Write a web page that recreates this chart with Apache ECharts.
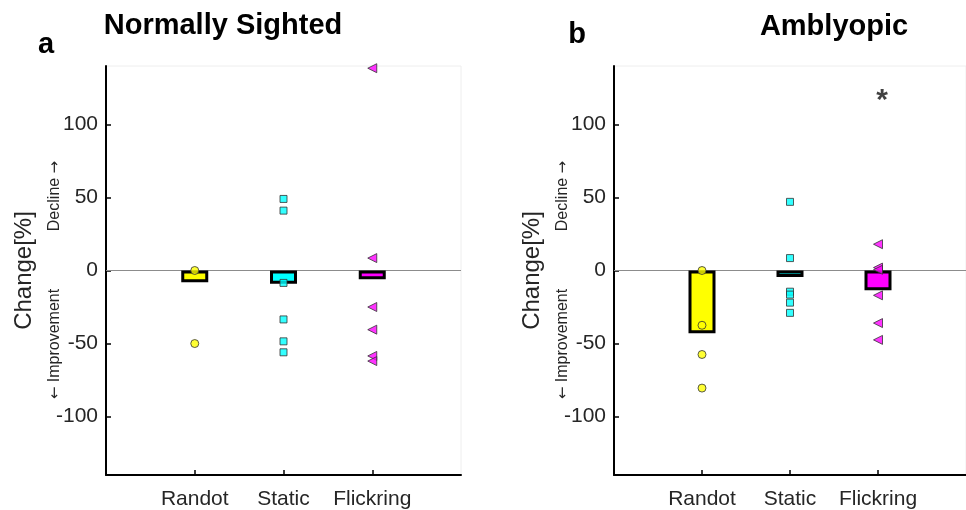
<!DOCTYPE html>
<html>
<head>
<meta charset="utf-8">
<script src="https://cdn.jsdelivr.net/npm/echarts@6/dist/echarts.min.js"></script>
<style>
html,body{margin:0;padding:0;background:#fff;}
#chart{width:966px;height:510px;}
</style>
</head>
<body>
<div id="chart"></div>
<script>
// ---- data ----
const categories = ['Randot', 'Static', 'Flickring'];
const yTicks = [-100, -50, 0, 50, 100];
const panelTitles = ['Normally Sighted', 'Amblyopic'];
const panelLetters = ['a', 'b'];

// Normally sighted: bar means and individual points
const normalBars = [-8, -9, -6];
const normalRandot = [0, -50];
const normalStatic = [49, 41, -8.5, -33.5, -48.5, -56];
const normalFlick = [138.5, 8.5, -25, -40.5, -58.5, -62];

// Amblyopic
const amblyBars = [-43, -4.5, -13.5];
const amblyRandot = [0, -37.5, -57.5, -80.5];
const amblyStatic = [47, 8.5, -14.5, -16.5, -22, -29];
const amblyFlick = [18, 2, 0.5, -17, -36, -47.5];

const significance = [{ cat: 3, value: 120, text: '*' }]; // amblyopic panel

// ---- chart ----
const FONT = "'Liberation Sans', Arial, sans-serif";
const barColors = ['#ffff00', '#00ffff', '#ff00ff'];
const chart = echarts.init(document.getElementById('chart'), null, { renderer: 'canvas' });

const grids = [
  { left: 106, top: 66, width: 355, height: 411 },
  { left: 614, top: 66, width: 356, height: 411 }
];

function xAxis(i) {
  return {
    type: 'value', gridIndex: i, min: 0, max: 4,
    axisLine: { show: true, onZero: false, lineStyle: { color: '#000', width: 2 } },
    axisTick: { show: true, inside: true, length: 5, customValues: [1, 2, 3], lineStyle: { color: '#000', width: 1.5 } },
    axisLabel: { customValues: [1, 2, 3], margin: 14, fontSize: 21, color: '#262626', fontFamily: FONT,
      formatter: v => categories[Math.round(v) - 1] || '' },
    splitLine: { show: false }
  };
}
function yAxis(i) {
  return {
    type: 'value', gridIndex: i, min: -140, max: 140,
    name: 'Change[%]', nameLocation: 'middle', nameGap: 70, nameRotate: 90,
    nameTextStyle: { fontSize: 24, color: '#262626', fontFamily: FONT },
    axisLine: { show: true, onZero: false, lineStyle: { color: '#000', width: 2 } },
    axisTick: { show: true, inside: true, length: 5, customValues: yTicks, lineStyle: { color: '#000', width: 1.5 } },
    axisLabel: { customValues: yTicks, margin: 8, fontSize: 21, color: '#262626', fontFamily: FONT },
    splitLine: { show: false }
  };
}

function barSeries(i, vals) {
  return {
    type: 'bar', xAxisIndex: i, yAxisIndex: i, barWidth: 27, z: 2,
    data: vals.map((v, k) => ({ value: [k + 1, v], itemStyle: { color: barColors[k] } })),
    itemStyle: { borderColor: '#000', borderWidth: 3 },
    markLine: {
      silent: true, symbol: 'none', label: { show: false }, z: 1,
      lineStyle: { color: '#8c8c8c', width: 1, type: 'solid' },
      data: [{ yAxis: 0 }]
    }
  };
}
function pointSeries(i, cat, vals, symbol, color, rotate, size) {
  return {
    type: 'scatter', xAxisIndex: i, yAxisIndex: i, z: 5,
    symbol: symbol, symbolSize: size, symbolRotate: rotate,
    itemStyle: { color: color, borderColor: '#333', borderWidth: 1 },
    data: vals.map(v => [cat, v])
  };
}

const series = [
  barSeries(0, normalBars),
  pointSeries(0, 1, normalRandot, 'circle', '#ffff00', 0, 8),
  pointSeries(0, 2, normalStatic, 'rect', '#00ffff', 0, 7),
  pointSeries(0, 3, normalFlick, 'triangle', '#ff00ff', 90, 9),
  barSeries(1, amblyBars),
  pointSeries(1, 1, amblyRandot, 'circle', '#ffff00', 0, 8),
  pointSeries(1, 2, amblyStatic, 'rect', '#00ffff', 0, 7),
  pointSeries(1, 3, amblyFlick, 'triangle', '#ff00ff', 90, 9),
  {
    type: 'scatter', xAxisIndex: 1, yAxisIndex: 1, symbolSize: 1, z: 6,
    itemStyle: { color: 'rgba(0,0,0,0)' },
    label: { show: true, position: 'inside', offset: [4, 6], fontSize: 30, fontWeight: 'bold', color: '#111', fontFamily: FONT,
      formatter: p => significance[p.dataIndex].text },
    data: significance.map(s => [s.cat, s.value])
  }
];

function txt(x, y, text, size, weight, rot, rich) {
  const st = { text: text, fontSize: size, fontWeight: weight, fontFamily: FONT, fill: weight === 'bold' ? '#000' : '#262626',
      align: 'center', verticalAlign: 'middle' };
  if (rich) st.rich = rich;
  return { type: 'text', x: x, y: y, rotation: rot || 0, z: 10, style: st };
}
const arrowRich = {
  ar: { fontFamily: "'DejaVu Sans', sans-serif", fontSize: 15, fill: '#262626' },
  t: { fontFamily: FONT, fontSize: 16, fill: '#262626' }
};
const graphics = [
  txt(223, 26, panelTitles[0], 29, 'bold'),
  txt(834, 27, panelTitles[1], 29, 'bold'),
  txt(46, 45, panelLetters[0], 29, 'bold'),
  txt(577, 35, panelLetters[1], 29, 'bold'),
  txt(55, 196, '{t|Decline }{ar|\u2192}', 16, 'normal', Math.PI / 2, arrowRich),
  txt(55, 344, '{ar|\u2190}{t| Improvement}', 16, 'normal', Math.PI / 2, arrowRich),
  txt(563, 196, '{t|Decline }{ar|\u2192}', 16, 'normal', Math.PI / 2, arrowRich),
  txt(563, 344, '{ar|\u2190}{t| Improvement}', 16, 'normal', Math.PI / 2, arrowRich)
];

chart.setOption({
  animation: false,
  backgroundColor: '#fff',
  grid: grids.map(g => Object.assign({ show: true, borderColor: '#eeeeee', borderWidth: 1, backgroundColor: 'transparent' }, g)),
  xAxis: [xAxis(0), xAxis(1)],
  yAxis: [yAxis(0), yAxis(1)],
  series: series,
  graphic: graphics
});
</script>
</body>
</html>
